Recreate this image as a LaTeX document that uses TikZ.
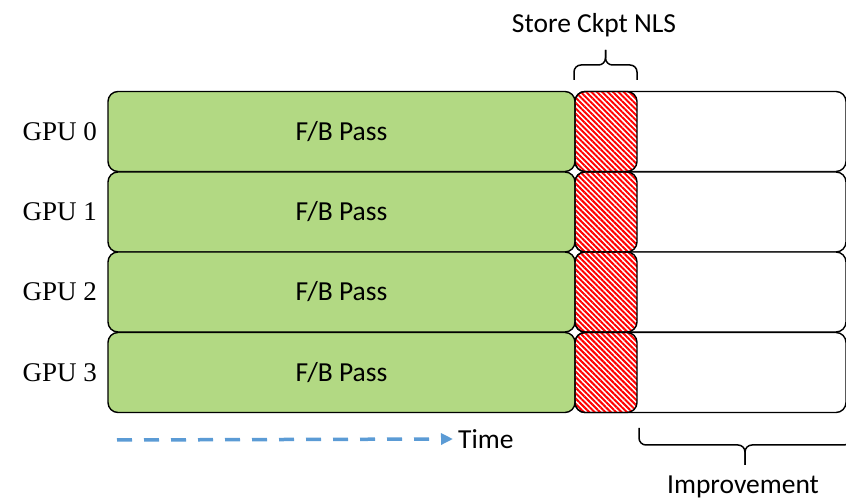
\documentclass[tikz,border=0pt]{standalone}
\usepackage{fontspec}
\setmainfont{Carlito}
\newfontfamily\gpufont{Liberation Serif}
\usetikzlibrary{positioning,patterns.meta,arrows.meta}

\definecolor{passgreen}{RGB}{178,217,131}
\definecolor{timeblue}{RGB}{91,155,213}

\tikzset{
  slot/.style={draw=black, line width=1.4pt, rounded corners=10pt,
    minimum height=80pt, inner sep=0pt, outer sep=0pt},
  fbbox/.style={slot, fill=passgreen, minimum width=467pt},
  ckbox/.style={slot, fill=white, minimum width=62pt,
    pattern={Lines[angle=-45,distance=3.8pt,line width=2pt]}, pattern color=red},
  idlebox/.style={slot, fill=white, minimum width=271pt},
  gpulabel/.style={font=\gpufont\fontsize{27}{32}\selectfont, inner sep=0pt},
  txt/.style={font=\fontsize{27.5}{32}\selectfont, inner sep=0pt},
  bracelin/.style={line width=1.5pt, rounded corners=7pt}
}

\begin{document}
\begin{tikzpicture}[x=1pt,y=1pt]
            \useasboundingbox (0,0) rectangle (846,500);

            % Idle part (behind checkpoint)
            \node[idlebox] (idle0) at (710.5,368.5) {};
            \node[idlebox] (idle1) at (710.5,288) {};
            \node[idlebox] (idle2) at (710.5,208) {};
            \node[idlebox] (idle3) at (710.5,127.5) {};

            % Forward / backward pass
            \node[fbbox] (fb0) at (341.5,368.5) {};
            \node[fbbox] (fb1) at (341.5,288) {};
            \node[fbbox] (fb2) at (341.5,208) {};
            \node[fbbox] (fb3) at (341.5,127.5) {};
            \node[txt] at (fb0) {F/B Pass};
            \node[txt] at (fb1) {F/B Pass};
            \node[txt] at (fb2) {F/B Pass};
            \node[txt] at (fb3) {F/B Pass};

            % Checkpoint store
            \node[ckbox] (ck0) at (606,368.5) {};
            \node[ckbox] (ck1) at (606,288) {};
            \node[ckbox] (ck2) at (606,208) {};
            \node[ckbox] (ck3) at (606,127.5) {};

            % GPU labels
            \node[gpulabel, left=11pt of fb0] (gpu0) {GPU 0};
            \node[gpulabel, left=11pt of fb1] (gpu1) {GPU 1};
            \node[gpulabel, left=11pt of fb2] (gpu2) {GPU 2};
            \node[gpulabel, left=11pt of fb3] (gpu3) {GPU 3};

            % Top brace
            \coordinate (ckL) at (574,420);
            \coordinate (ckR) at (637,420);
            \coordinate (ckTip) at (605.5,450);
            \draw[bracelin] (ckL) |- (605.5,435) -- (ckTip);
            \draw[bracelin] (ckR) |- (605.5,435) -- (ckTip);
            \node[txt] (store) at (594,475) {Store Ckpt NLS};

            % Bottom brace
            \coordinate (imL) at (639,72);
            \coordinate (imR) at (851,72);
            \coordinate (imTip) at (745,35);
            \draw[bracelin] (imL) |- (745,55) -- (imTip);
            \draw[bracelin] (imR) |- (745,55) -- (imTip);
            \node[txt] (improve) at (743,13) {Improvement};

            % Time axis
            \coordinate (t0) at (117,60);
            \node[txt, anchor=west, inner sep=5pt] (time) at (453,61) {Time};
            \draw[timeblue, line width=3.5pt, dash pattern=on 15pt off 12pt,
              -{Triangle[length=12pt,width=11pt]}] (t0) -- (time.west);
\end{tikzpicture}
\end{document}
